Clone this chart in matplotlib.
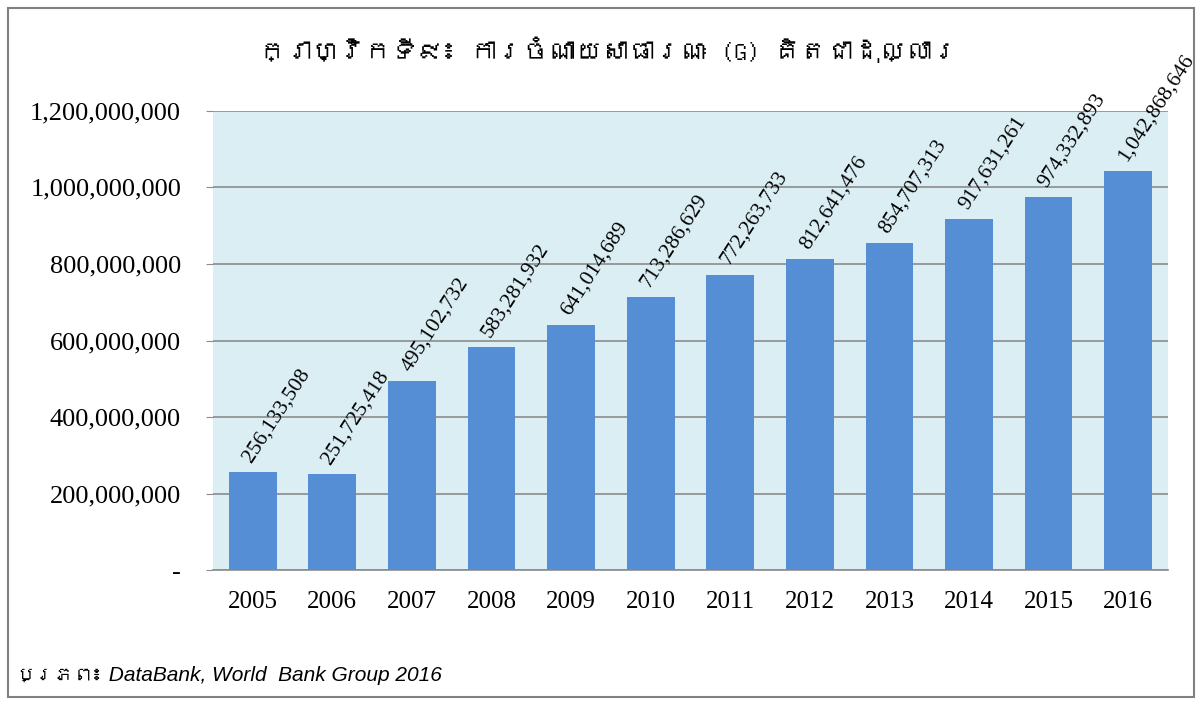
import matplotlib

matplotlib.use("Agg")
import matplotlib.pyplot as plt
from matplotlib import font_manager
from matplotlib.ft2font import FT2Font
from matplotlib.patches import Rectangle
from matplotlib.ticker import FuncFormatter

years = ["2005", "2006", "2007", "2008", "2009", "2010",
         "2011", "2012", "2013", "2014", "2015", "2016"]
spending = [256133508, 251725418, 495102732, 583281932, 641014689, 713286629,
            772263733, 812641476, 854707313, 917631261, 974332893, 1042868646]
yticks = [0, 200e6, 400e6, 600e6, 800e6, 1000e6, 1200e6]

TITLE = "ក្រាហ្វិកទី៩៖ ការចំណាយសាធារណៈ (G) គិតជាដុល្លារ"
SRC_KH = "ប្រភព៖"
SRC_EN = "DataBank, World  Bank Group 2016"

BAR = "#558ED5"
BG = "#DAEEF3"
GRID = "#8C8C8C"


def khmer_fonts():
    # families that really carry Khmer glyphs
    names = []
    for f in font_manager.fontManager.ttflist:
        try:
            if ord("ក") in FT2Font(f.fname).get_charmap() and f.name not in names:
                names.append(f.name)
        except Exception:
            pass
    return names


title_fam = khmer_fonts() + ["Liberation Sans", "DejaVu Sans"]

fig = plt.figure(figsize=(12, 7.04), dpi=100)
ax = fig.add_axes([0.1775, 0.19, 0.7958, 0.6525])
ax.set_facecolor(BG)

x = range(len(years))
ax.bar(x, spending, width=0.6, color=BAR, zorder=3)
for i, v in enumerate(spending):
    ax.text(i - 0.07, v + 30e6, f"{v:,}", rotation=57, rotation_mode="anchor",
            ha="left", va="center", fontsize=15.5, family="Liberation Serif",
            zorder=4)

ax.set_ylim(0, 1.2e9)
ax.set_xlim(-0.5, len(years) - 0.5)
ax.set_yticks(yticks)
ax.yaxis.set_major_formatter(FuncFormatter(lambda v, p: "-" if v == 0 else f"{v:,.0f}"))
ax.grid(axis="y", color=GRID, lw=1.2, zorder=1)
ax.set_xticks(list(x))
ax.set_xticklabels(years)
for s in ["top", "right", "left"]:
    ax.spines[s].set_visible(False)
ax.spines["bottom"].set_color(GRID)
ax.spines["bottom"].set_linewidth(1.2)
ax.tick_params(axis="y", length=5, color=GRID, pad=18, labelsize=19)
ax.tick_params(axis="x", length=0, pad=15, labelsize=18)
for lab in ax.get_xticklabels() + ax.get_yticklabels():
    lab.set_family("Liberation Serif")

fig.text(0.507, 0.929, TITLE, ha="center", va="center", fontsize=19,
         family=title_fam)
src = fig.text(0.013, 0.041, SRC_KH, ha="left", va="center", fontsize=14,
               family=title_fam, style="italic")
# English part of the source line follows the Khmer word
ax.annotate(" " + SRC_EN, xy=(1, 0.5), xycoords=src, ha="left", va="center",
            fontsize=15, family="Liberation Sans", style="italic",
            annotation_clip=False)

fig.patches.append(Rectangle((0.007, 0.01), 0.988, 0.978, transform=fig.transFigure,
                             fill=False, edgecolor="#808080", lw=1.5))

fig.savefig("out.png", dpi=100)
